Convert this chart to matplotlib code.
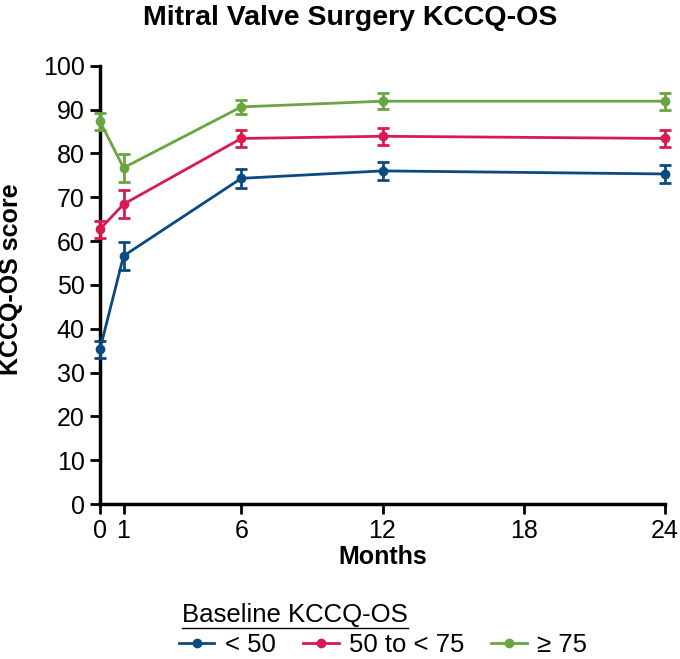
import matplotlib.pyplot as plt
from matplotlib.lines import Line2D
import numpy as np

plt.rcParams['font.family'] = ['Liberation Sans', 'DejaVu Sans']

# months of follow-up
months = [0, 1, 6, 12, 24]

# KCCQ-OS mean scores and error bar half-widths by baseline group
low_mean = [35.3, 56.6, 74.3, 76.0, 75.3]
low_err = [1.9, 3.1, 2.2, 2.1, 2.1]

mid_mean = [62.7, 68.4, 83.4, 83.9, 83.4]
mid_err = [1.9, 3.2, 2.0, 2.0, 1.9]

high_mean = [87.3, 76.7, 90.6, 91.9, 91.9]
high_err = [1.9, 3.2, 1.6, 1.8, 1.9]

group_labels = ['< 50', '50 to < 75', '\u2265 75']
colors = ['#0b4a80', '#d91a50', '#6aa53f']

x_ticks = [0, 1, 6, 12, 18, 24]
y_ticks = list(range(0, 101, 10))

fig = plt.figure(figsize=(6.8, 6.59), dpi=100)
ax = fig.add_axes([100 / 680, 1 - 504 / 659, 565 / 680, 438.3 / 659])

series = [(low_mean, low_err), (mid_mean, mid_err), (high_mean, high_err)]
handles = []
for (mean, err), color in zip(series, colors):
    ax.errorbar(months, mean, yerr=err, color=color, marker='o', markersize=6,
                linewidth=2, elinewidth=2, capsize=4, capthick=2, clip_on=False,
                zorder=3)
    handles.append(Line2D([], [], color=color, marker='o', markersize=6, linewidth=2))

ax.set_xlim(0, 24)
ax.set_ylim(0, 100)
ax.set_xticks(x_ticks)
ax.set_yticks(y_ticks)
ax.tick_params(labelsize=18, width=2, length=7, direction='out', pad=4)
for s in ['top', 'right']:
    ax.spines[s].set_visible(False)
for s in ['left', 'bottom']:
    ax.spines[s].set_linewidth(2.5)

ax.set_xlabel('Months', fontsize=18, fontweight='bold', labelpad=1)
ax.set_ylabel('KCCQ-OS score', fontsize=18, fontweight='bold')
ax.yaxis.set_label_coords(-0.136, 0.513)
fig.text(0.515, 0.973, 'Mitral Valve Surgery KCCQ-OS', ha='center', va='center',
         fontsize=20.5, fontweight='bold')

# legend with underlined title
t = fig.text(182 / 680, 1 - 615 / 659, 'Baseline KCCQ-OS', ha='left', va='center', fontsize=18.5)
fig.legend(handles, group_labels, loc='center', bbox_to_anchor=(383 / 680, 1 - 645 / 659),
           ncol=3, frameon=False, fontsize=18.5, handlelength=1.4, handletextpad=0.4,
           columnspacing=1.05, borderaxespad=0, borderpad=0)

fig.canvas.draw()
bb = t.get_window_extent().transformed(fig.transFigure.inverted())
fig.add_artist(Line2D([bb.x0, bb.x1], [bb.y0 - 0.001, bb.y0 - 0.001], color='black',
                      linewidth=1, transform=fig.transFigure))

fig.savefig('out.png', dpi=100)
